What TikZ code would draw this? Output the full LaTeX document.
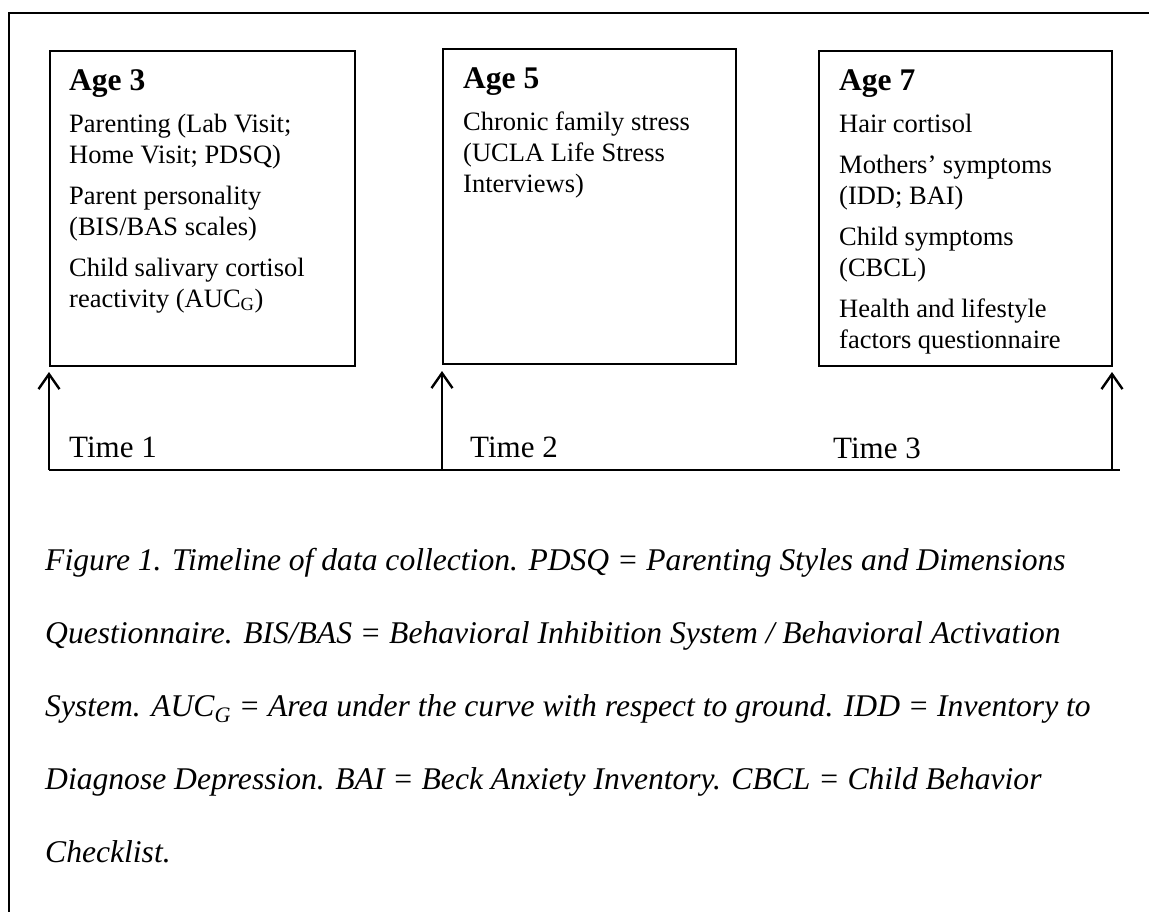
\documentclass[tikz,border=0pt]{standalone}
\usepackage{fontspec}
\setmainfont{Liberation Serif}
\usetikzlibrary{arrows.meta}
\tikzset{
  agebox/.style={draw, line width=2.4pt, anchor=north west, inner sep=0pt},
  boxtext/.style={anchor=base west, inner sep=0pt},
  timelabel/.style={anchor=base west, inner sep=0pt, font=\fontsize{31}{31}\selectfont},
  caption/.style={anchor=base west, inner sep=0pt, font=\fontsize{31.6}{31.6}\selectfont\itshape},
  arrowline/.style={line width=2.4pt, -{Straight Barb[length=15pt,width=21pt,line width=2.4pt]}},
  timeline/.style={line width=2.4pt},
  frame/.style={line width=2pt}
}
\newcommand{\boxcontent}[2]{\parbox[t]{#1}{\raggedright\fontsize{26.5}{31}\selectfont #2}}
\newcommand{\agehead}[1]{{\bfseries\fontsize{31.5}{31}\selectfont #1}\\[11pt]}
\begin{document}
\begin{tikzpicture}[x=1pt,y=-1pt]
\useasboundingbox[fill=white] (0,0) rectangle (1149,911);
% outer frame
\coordinate (fb) at (9,912);
\coordinate (fc) at (9,13);
\coordinate (fr) at (1150,13);
\draw[frame] (fb) -- (fc) -- (fr);
% boxes
\node[agebox, minimum width=305pt, minimum height=315pt] (b1) at (49,50) {};
\node[agebox, minimum width=293pt, minimum height=315pt] (b2) at (442,48) {};
\node[agebox, minimum width=293pt, minimum height=315pt] (b3) at (818,50) {};
% box texts
\node[boxtext] (t1) at (69,90) {\boxcontent{280pt}{\agehead{Age 3}
Parenting (Lab Visit;\\ Home Visit; PDSQ)\\[10pt]
Parent personality\\ (BIS/BAS scales)\\[10pt]
Child salivary cortisol\\ reactivity (AUC\textsubscript{G})}};
\node[boxtext] (t2) at (463,88) {\boxcontent{265pt}{\agehead{Age 5}
Chronic family stress\\ (UCLA Life Stress\\ Interviews)}};
\node[boxtext] (t3) at (839,90) {\boxcontent{265pt}{\agehead{Age 7}
Hair cortisol\\[10pt]
Mothers’ symptoms\\ (IDD; BAI)\\[10pt]
Child symptoms\\ (CBCL)\\[10pt]
Health and lifestyle\\ factors questionnaire}};
% timeline
\coordinate (p1) at (49,470);
\coordinate (p2) at (442,470);
\coordinate (p3) at (1112,470);
\coordinate (pend) at (1120,470);
\coordinate (h1) at (49,372);
\coordinate (h2) at (442,371);
\coordinate (h3) at (1112,372);
\draw[timeline] (p1) -- (pend);
\draw[arrowline] (p1) -- (h1);
\draw[arrowline] (p2) -- (h2);
\draw[arrowline] (p3) -- (h3);
\node[timelabel] (tl1) at (69,457) {Time 1};
\node[timelabel] (tl2) at (470,457) {Time 2};
\node[timelabel] (tl3) at (833,458) {Time 3};
% caption
\node[caption] (c1) at (45,570) {Figure 1. Timeline of data collection. PDSQ = Parenting Styles and Dimensions};
\node[caption] (c2) at (45,643) {Questionnaire. BIS/BAS = Behavioral Inhibition System / Behavioral Activation};
\node[caption] (c3) at (45,716) {System. AUC\textsubscript{G} = Area under the curve with respect to ground. IDD = Inventory to};
\node[caption] (c4) at (45,789) {Diagnose Depression. BAI = Beck Anxiety Inventory. CBCL = Child Behavior};
\node[caption] (c5) at (45,862) {Checklist.};
\end{tikzpicture}
\end{document}
